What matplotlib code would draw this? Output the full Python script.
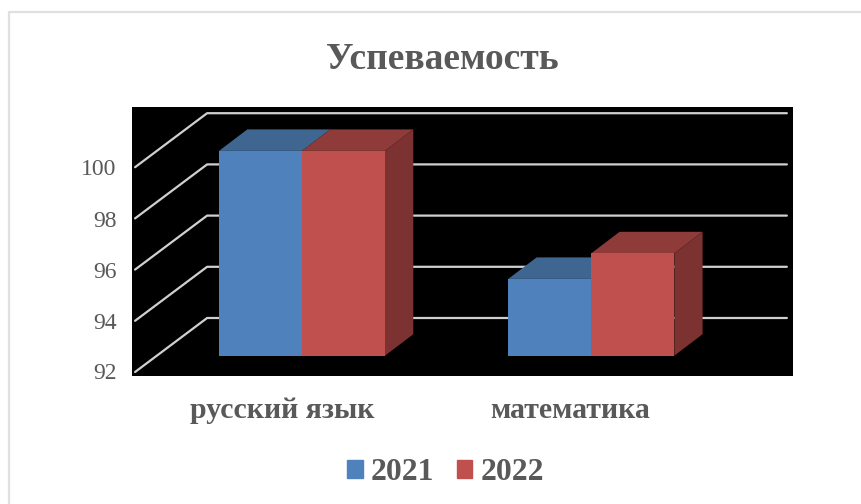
import numpy as np
import matplotlib
matplotlib.use("Agg")
import matplotlib.pyplot as plt
from matplotlib.patches import Polygon, Patch, Rectangle

# данные
categories = ["русский язык", "математика"]
years = ["2021", "2022"]
values_2021 = [100, 95]
values_2022 = [100, 96]
yticks = [92, 94, 96, 98, 100]

W, H = 861, 504
TEXT = "#595959"
BLUE, BLUE_TOP = "#4f81bd", "#3f6690"
RED, RED_TOP, RED_SIDE = "#c0504d", "#8f3b39", "#7b3230"
GRID = "#d0d0d0"

plt.rcParams["font.family"] = ["Liberation Serif", "DejaVu Serif"]

fig = plt.figure(figsize=(W / 100, H / 100), dpi=100)


def box(x0, y0, x1, y1):
    return [x0 / W, 1 - y1 / H, (x1 - x0) / W, (y1 - y0) / H]


# рамка диаграммы (справа и снизу её не видно)
bg = fig.add_axes([0, 0, 1, 1], zorder=0)
bg.set_xlim(0, W)
bg.set_ylim(H, 0)
bg.axis("off")
bg.plot([9, 9, 861], [504, 12, 12], color="#e0e0e0", lw=1.6)

# область построения, единицы: категории и значения
ax = fig.add_axes(box(132, 107, 793, 376), zorder=1)
ax.set_facecolor("black")
px_x = 289.3   # пикселей на категорию
px_y = 25.6    # пикселей на единицу
ax.set_xlim((132 - 302) / px_x, (793 - 302) / px_x)
ax.set_ylim(92 - (376 - 355.7) / px_y, 92 + (355.7 - 107) / px_y)
ax.set_xticks([])
ax.set_yticks([])
for s in ax.spines.values():
    s.set_visible(False)

# сетка на задней и боковой стенках
x_front, x_back, x_end = -0.577, -0.328, 1.676
dy_back, dy_front = 37.7 / px_y, -16.3 / px_y
for v in yticks:
    ax.plot([x_front, x_back, x_end], [v + dy_front, v + dy_back, v + dy_back],
            color=GRID, lw=1.6, zorder=1, solid_capstyle="round")

# столбцы с псевдообъёмом
bw = 83 / px_x
dx, dy = 28.3 / px_x, 21.5 / px_y
base = 92


def bar3d(x0, val, face, top, side):
    x1 = x0 + bw
    ax.add_patch(Polygon([(x0, val), (x0 + dx, val + dy), (x1 + dx, val + dy), (x1, val)],
                         fc=top, lw=0, zorder=3))
    if side:
        ax.add_patch(Polygon([(x1, base), (x1 + dx, base + dy), (x1 + dx, val + dy), (x1, val)],
                             fc=side, lw=0, zorder=3))
    ax.add_patch(Rectangle((x0, base), bw, val - base, fc=face, lw=0, zorder=4))


for i in range(len(categories)):
    bar3d(i - bw, values_2021[i], BLUE, BLUE_TOP, None)
    bar3d(i, values_2022[i], RED, RED_TOP, RED_SIDE)

# подписи
fig.text(442 / W, 1 - 69 / H, "Успеваемость", ha="center", va="baseline",
         fontsize=27, fontweight="bold", color=TEXT)
for v, yp in zip(yticks, [379, 329, 278, 227, 175]):
    fig.text(116.5 / W, 1 - yp / H, str(v), ha="right", va="baseline", fontsize=17, color=TEXT)
for c, xp in zip(categories, [282, 570]):
    fig.text(xp / W, 1 - 418 / H, c, ha="center", va="baseline",
             fontsize=21.5, fontweight="bold", color=TEXT)

handles = [Patch(color=BLUE, label=years[0]), Patch(color=RED, label=years[1])]
fig.legend(handles=handles, loc="center", bbox_to_anchor=(445.5 / W, 1 - 473 / H), ncol=2,
           frameon=False, prop={"size": 22.8, "weight": "bold"}, labelcolor=TEXT,
           handlelength=0.5, handleheight=0.5, handletextpad=0.25, columnspacing=0.7)

fig.savefig("out.png", dpi=100)
